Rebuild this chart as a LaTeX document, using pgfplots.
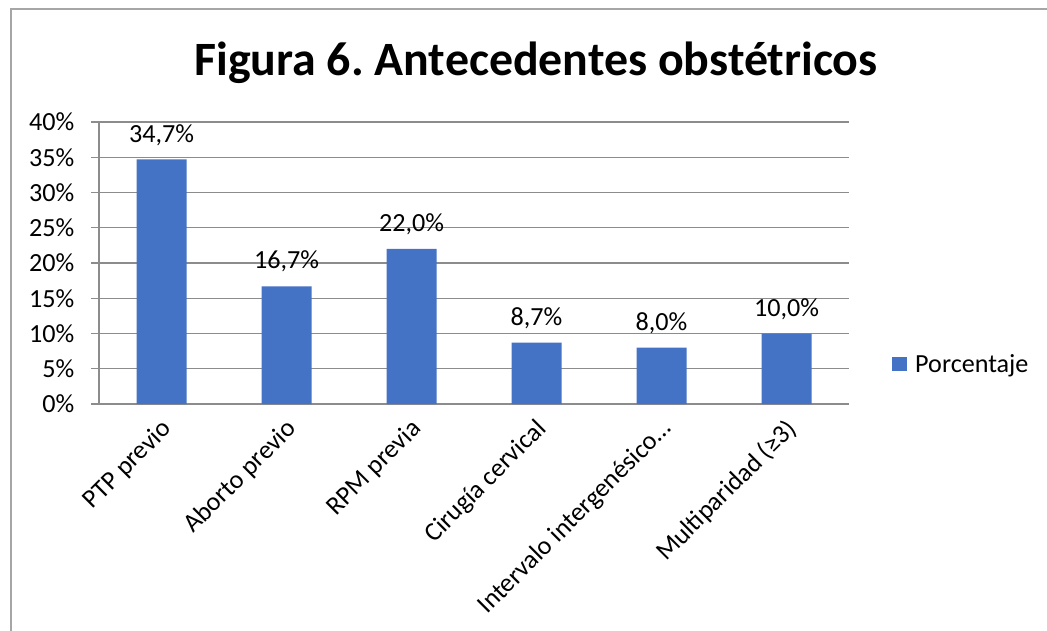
\documentclass[border=0pt]{standalone}
\usepackage{pgfplots}
\pgfplotsset{compat=1.18}
\usepackage{fontspec}
\setmainfont{Carlito}
\frenchspacing
\definecolor{barblue}{HTML}{4472C4}
\definecolor{gridgray}{HTML}{8C8C8C}
\definecolor{framegray}{HTML}{A6A6A6}
\begin{document}
\begin{tikzpicture}
\begin{scope}[x=0.75pt,y=-0.75pt]
\useasboundingbox (0,0) rectangle (1047,631);
\draw[framegray, line width=1.2pt] (11,640) -- (11,9) -- (1060,9);
\node[anchor=base, font=\fontsize{35.9}{40}\selectfont\bfseries] at (536,76) {Figura 6. Antecedentes obstétricos};
\end{scope}
\begin{axis}[
  at={(74.25pt,-303pt)}, anchor=south west,
  scale only axis, width=562.5pt, height=211.5pt,
  xmin=-0.5, xmax=5.5, ymin=0, ymax=40,
  axis lines*=left,
  axis line style={gridgray, line width=0.8pt},
  ytick={0,5,...,40},
  yticklabel={\pgfmathprintnumber{\tick}\%},
  ymajorgrids, grid style={gridgray, line width=0.8pt},
  y tick style={gridgray, line width=0.8pt},
  tick align=outside, major tick length=6pt,
  xtick={0,...,5},
  xticklabels={PTP previo, Aborto previo, RPM previa, Cirugía cervical, Intervalo intergenésico…, Multiparidad (≥3)},
  x tick style={draw=none},
  extra x ticks={-0.5,0.5,...,5.5},
  extra x tick labels={},
  extra x tick style={major tick length=6pt, tick style={gridgray, line width=0.8pt, draw=gridgray}, grid=none},
  x tick label style={xshift=7pt, yshift=-7.4pt, rotate=45, anchor=east},
  ticklabel style={font=\fontsize{19.6}{22}\selectfont},
  y tick label style={xshift=-9pt},
  /pgf/number format/assume math mode=true,
  ybar, bar width=37.5pt,
  nodes near coords={\pgfmathprintnumber[fixed,fixed zerofill,precision=1,use comma]{\pgfplotspointmeta}\%},
  nodes near coords style={font=\fontsize{19.6}{22}\selectfont, anchor=base, inner sep=0pt, yshift=13pt, black},
  legend style={at={(1.0573,0.1418)}, anchor=west, draw=none, fill=none, inner sep=0pt,
    font=\fontsize{19.6}{22}\selectfont, /tikz/every even column/.append style={column sep=0pt}},
  legend image code/.code={\fill[barblue] (0pt,-5.6pt) rectangle (11.25pt,5.6pt);},
  legend cell align=left,
]
\addplot[fill=barblue, draw=none] coordinates {(0,34.7) (1,16.7) (2,22.0) (3,8.7) (4,8.0) (5,10.0)};
\addlegendentry{\hspace{4pt}Porcentaje}
\end{axis}
\end{tikzpicture}
\end{document}
